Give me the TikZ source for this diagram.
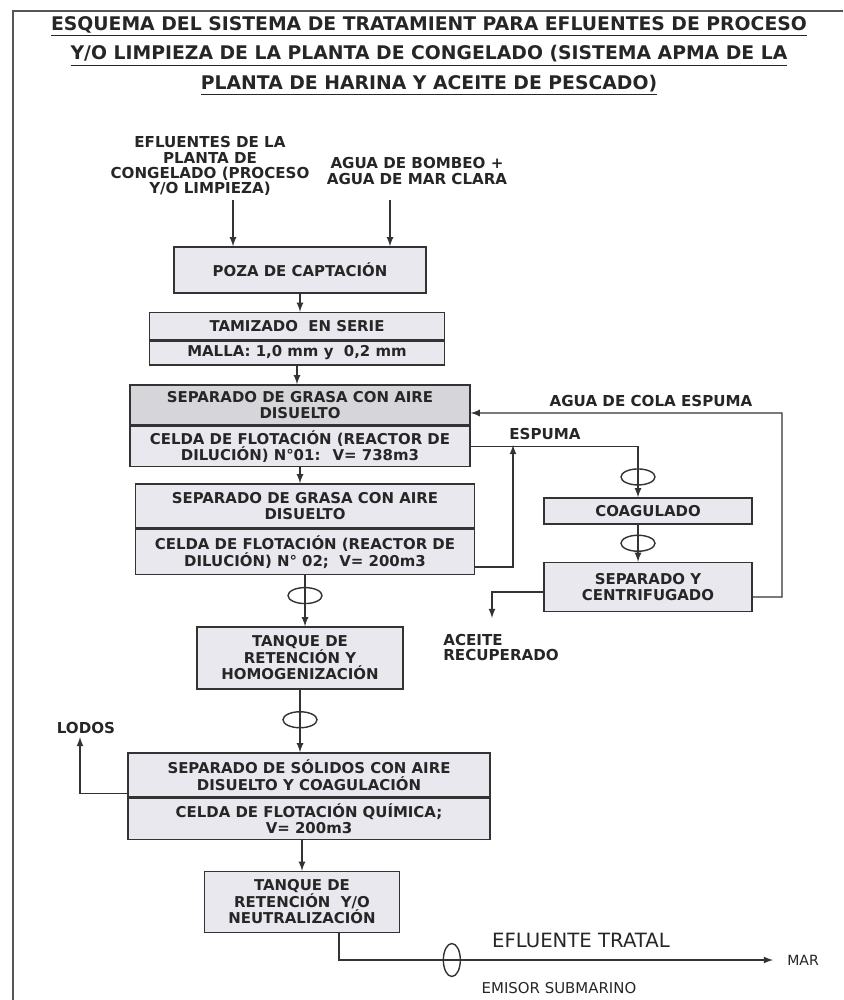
\documentclass[tikz,border=0pt]{standalone}
\usepackage{fontspec}
\setmainfont{DejaVu Sans}
\usetikzlibrary{arrows,positioning,shapes.geometric,calc}

\definecolor{textgray}{HTML}{262626}
\definecolor{linegray}{HTML}{333333}
\definecolor{framegray}{HTML}{555555}
\definecolor{boxfill}{HTML}{E8E8EE}
\definecolor{boxdark}{HTML}{D6D6DA}

\begin{document}
\begin{tikzpicture}[x=0.02cm, y=-0.02cm,
    box/.style={draw=linegray, fill=boxfill, line width=0.8pt, align=center, inner sep=1pt,
      text=textgray, font=\fontsize{8.5}{9.4}\selectfont\bfseries},
    lbl/.style={align=center, inner sep=0pt, text=textgray, font=\fontsize{8.6}{8.6}\selectfont\bfseries},
    flow/.style={->, >=latex, draw=linegray, line width=0.8pt},
    meter/.style={draw=linegray, ellipse, line width=0.8pt, minimum width=0.68cm,
      minimum height=0.32cm, inner sep=0pt}]
  \useasboundingbox (0,0) rectangle (843,1000);
  \draw[framegray, line width=1.5pt] (843,11) -- (13,11) -- (13,1000);

  \node[inner sep=0pt, align=center, text=textgray, font=\fontsize{10.7}{17}\selectfont\bfseries] (title) at (429,56)
    {\underline{ESQUEMA DEL SISTEMA DE TRATAMIENT PARA EFLUENTES DE PROCESO}\\
     \underline{Y/O LIMPIEZA DE LA PLANTA DE CONGELADO (SISTEMA APMA DE LA}\\
     \underline{PLANTA DE HARINA Y ACEITE DE PESCADO)}};

  % entradas
  \node[lbl] (efl) at (210,166) {EFLUENTES DE LA\\PLANTA DE\\CONGELADO (PROCESO\\Y/O LIMPIEZA)};
  \node[lbl] (agua) at (417,171) {AGUA DE BOMBEO +\\AGUA DE MAR CLARA};
  \coordinate (in1) at (233,200);
  \coordinate (in2) at (390,200);

  % linea principal
  \node[box, minimum width=5.04cm, minimum height=0.92cm] (poza) at (300,270) {POZA DE CAPTACIÓN};
  \node[box, minimum width=5.9cm, minimum height=0.54cm] (tamA) at (297,326) {TAMIZADO \ EN SERIE};
  \node[box, minimum width=5.9cm, minimum height=0.48cm, below=0pt of tamA] (tamB) {MALLA: 1,0 mm y \ 0,2 mm};
  \node[box, fill=boxdark, minimum width=6.8cm, minimum height=0.8cm] (sepA) at (300,405)
    {SEPARADO DE GRASA CON AIRE\\DISUELTO};
  \node[box, minimum width=6.8cm, minimum height=0.8cm, below=0pt of sepA] (sepB)
    {CELDA DE FLOTACIÓN (REACTOR DE\\DILUCIÓN) N°01: \ V= 738m3};
  \node[box, minimum width=6.78cm, minimum height=0.88cm] (sepC) at (305,506)
    {SEPARADO DE GRASA CON AIRE\\DISUELTO};
  \node[box, minimum width=6.78cm, minimum height=0.9cm, below=0pt of sepC] (sepD)
    {CELDA DE FLOTACIÓN (REACTOR DE\\DILUCIÓN) N° 02; \ V= 200m3};
  \node[box, minimum width=4.12cm, minimum height=1.24cm] (tanque) at (300,658)
    {TANQUE DE\\RETENCIÓN Y\\HOMOGENIZACIÓN};
  \node[box, minimum width=7.24cm, minimum height=0.88cm] (solA) at (309,775)
    {SEPARADO DE SÓLIDOS CON AIRE\\DISUELTO Y COAGULACIÓN};
  \node[box, minimum width=7.24cm, minimum height=0.82cm, below=0pt of solA] (solB)
    {CELDA DE FLOTACIÓN QUÍMICA;\\V= 200m3};
  \node[box, minimum width=3.9cm, minimum height=1.22cm] (neutro) at (302,902)
    {TANQUE DE\\RETENCIÓN \ Y/O\\NEUTRALIZACIÓN};

  % recuperacion de aceite
  \node[box, minimum width=4.16cm, minimum height=0.52cm] (coag) at (648,511) {COAGULADO};
  \node[box, minimum width=4.16cm, minimum height=0.98cm] (centrif) at (648,587) {SEPARADO Y\\CENTRIFUGADO};
  \node[lbl] (cola) at (651,401) {AGUA DE COLA ESPUMA};
  \node[lbl] (espuma) at (545,434) {ESPUMA};
  \node[lbl, anchor=north west, align=left] (aceite) at (443,634) {ACEITE\\RECUPERADO};
  \node[lbl] (lodos) at (86,728) {LODOS};
  \coordinate (espj) at (513,445);
  \coordinate (colac) at (782,413);
  \coordinate (oil) at (492,618);
  \coordinate (sludge) at (80,737);

  % salida
  \node[lbl, font=\fontsize{11.2}{13}\selectfont] (tratado) at (581,940) {EFLUENTE TRATAL};
  \node[lbl, font=\fontsize{8.5}{10}\selectfont] (emisor) at (559,988) {EMISOR SUBMARINO};
  \node[lbl, font=\fontsize{8}{10}\selectfont, anchor=west] (mar) at (787,960) {MAR};

  \draw[flow] (in1) -- (in1 |- poza.north);
  \draw[flow] (in2) -- (in2 |- poza.north);
  \draw[flow] (poza.south) -- (poza.south |- tamA.north);
  \draw[flow] (tamB.south) -- (tamB.south |- sepA.north);
  \draw[flow] (sepB.south) -- (sepB.south |- sepC.north);
  \draw[flow] (sepB.east) -| node[meter, pos=0.8] (m1) {} ($(coag.north)+(-10,0)$);
  \draw[flow] ([yshift=-0.3cm]sepD.east) -| (espj);
  \draw[flow] ($(coag.south)+(-10,0)$) -- node[meter, pos=0.5] (m2) {} ($(centrif.north)+(-10,0)$);
  \draw[flow] ([yshift=-0.2cm]centrif.east) -| (colac) -- ([yshift=-0.16cm]sepA.east);
  \draw[flow] ([yshift=-0.1cm]centrif.west) -| (oil);
  \draw[flow] (sepD.south) -- node[meter, pos=0.4] (m3) {} (sepD.south |- tanque.north);
  \draw[flow] (tanque.south) -- node[meter, pos=0.48] (m4) {} (tanque.south |- solA.north);
  \draw[flow] ([yshift=0.08cm]solA.south west) -| (sludge);
  \draw[flow] (neutro.north |- solB.south) -- (neutro.north);
  \draw[flow] ([xshift=0.74cm]neutro.south) |- node[meter, pos=0.63, minimum width=0.34cm, minimum height=0.66cm] (m5) {}
    ([xshift=-0.28cm]mar.west);
\end{tikzpicture}
\end{document}
